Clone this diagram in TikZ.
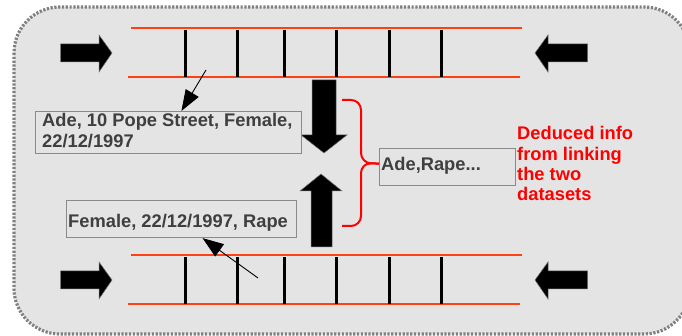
\documentclass[tikz,border=0pt]{standalone}
\usepackage{fontspec}
\setmainfont{Liberation Sans}
\usetikzlibrary{arrows.meta,calc}
\definecolor{panelgray}{HTML}{E4E4E4}
\definecolor{dotgray}{HTML}{808080}
\definecolor{railred}{HTML}{FF4015}
\definecolor{txtgray}{HTML}{3F3F3F}
\definecolor{boxgray}{HTML}{8A8A8A}
\tikzset{
  panel/.style={fill=panelgray,draw=none,rounded corners=46pt},
  panelrim/.style={draw=dotgray,line width=3.2pt,dash pattern=on 2.2pt off 1.6pt,rounded corners=46pt},
  rail/.style={draw=railred,line width=2pt},
  rung/.style={draw=black,line width=2.2pt},
  blockarrow/.style={fill=black,draw=black!55,line width=.5pt,line join=miter},
  infobox/.style={draw=boxgray,line width=1.1pt,inner sep=0pt,anchor=north west,fill=panelgray},
  boxtext/.style={font=\bfseries\fontsize{18.3}{21}\selectfont,text=txtgray,anchor=base west,inner sep=0pt,align=left},
  redtext/.style={font=\bfseries\fontsize{18.3}{20.4}\selectfont,text=red,anchor=base west,inner sep=0pt,align=left},
  pointer/.style={draw=black,line width=.9pt,-{Triangle[length=21pt,width=15pt]}},
  bracket/.style={draw=red,line width=2pt,rounded corners=10pt}
}
\begin{document}
\begin{tikzpicture}[x=1pt,y=-1pt]
\useasboundingbox (0,0) rectangle (682,336);
\fill[white] (0,0) rectangle (682,336);
\fill[panel] (14,7) rectangle (690,334);
\draw[panelrim] (14,7) rectangle (690,334);

% ladders
\foreach \dy/\nm in {0/a,227/b}{
  \draw[rail] (131,28+\dy) -- (522,28+\dy);
  \draw[rail] (128,77+\dy) -- (520,77+\dy);
  \foreach \vx in {185.5,237.5,284.5,336.5,389.5,441.5}
    \draw[rung] (\vx,30+\dy) -- (\vx,77+\dy);
  % side block arrows
  \draw[blockarrow] (60.5,44+\dy) -- (99,44+\dy) -- (99,35+\dy) -- (112,53+\dy) -- (99,72+\dy) -- (99,62+\dy) -- (60.5,62+\dy) -- cycle;
  \draw[blockarrow] (587.5,44+\dy) -- (548,44+\dy) -- (548,35+\dy) -- (535,53+\dy) -- (548,72+\dy) -- (548,62+\dy) -- (587.5,62+\dy) -- cycle;
}

% central block arrows
\draw[blockarrow] (312,80) -- (336,80) -- (336,135) -- (347,135) -- (324,153) -- (301,135) -- (312,135) -- cycle;
\draw[blockarrow] (311,247) -- (332,247) -- (332,191) -- (342,191) -- (321,174) -- (300,191) -- (311,191) -- cycle;

% boxes
\node[infobox,minimum width=266pt,minimum height=42pt] (box1) at (34.5,111) {};
\node[infobox,minimum width=230pt,minimum height=37pt] (box2) at (65.5,200) {};
\node[infobox,minimum width=136pt,minimum height=37pt] (box3) at (379,148) {};

\node[boxtext] (t1) at (42,148) {Ade, 10 Pope Street, Female,\\22/12/1997};
\node[boxtext] (t2) at (68,228) {Female, 22/12/1997, Rape};
\node[boxtext] (t3) at (381,171) {Ade,Rape...};
\node[redtext] (t4) at (517,201) {Deduced info\\from linking\\the two\\datasets};

% pointers
\coordinate (p1) at (206,70);
\coordinate (p2) at (258,278);
\draw[pointer] (p1) -- ($(box1.north west)!.55!(box1.north east)$);
\draw[pointer] (p2) -- ($(box2.south west)!.593!(box2.south east)$);

% bracket
\coordinate (bt) at (342,100);
\coordinate (bb) at (342,226);
\coordinate (btip) at ($(box3.north west)!.41!(box3.south west)$);
\draw[bracket] (bt) -- (361,100) -- (361,163) -- (btip);
\draw[bracket] (btip) -- (361,163) -- (361,226) -- (bb);
\end{tikzpicture}
\end{document}
